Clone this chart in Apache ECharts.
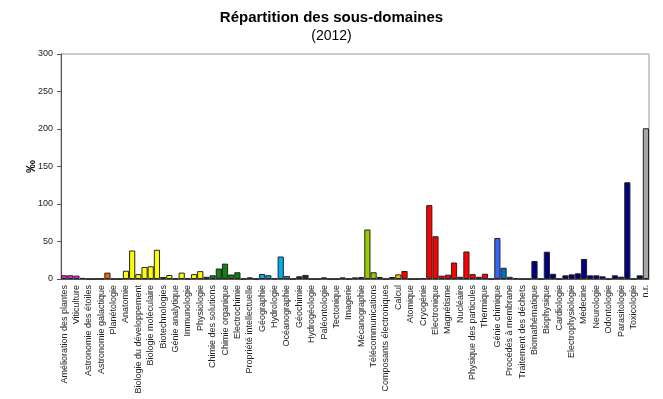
<!DOCTYPE html>
<html>
<head>
<meta charset="utf-8">
<script src="https://cdn.jsdelivr.net/npm/echarts@6/dist/echarts.min.js"></script>
<style>
  html, body { margin: 0; padding: 0; background: #fff; }
  #chart { width: 663px; height: 399px; }
</style>
</head>
<body>
<div id="chart"></div>
<script>
// labelled sub-domains (one every other bar on the axis)
const labels = [
  'Amélioration des plantes', 'Viticulture', 'Astronomie des étoiles', 'Astronomie galactique',
  'Planétologie', 'Anatomie', 'Biologie du développement', 'Biologie moléculaire',
  'Biotechnologies', 'Génie analytique', 'Immunologie', 'Physiologie',
  'Chimie des solutions', 'Chimie organique', 'Electrochimie', 'Propriété intellectuelle',
  'Géographie', 'Hydrologie', 'Océanographie', 'Géochimie',
  'Hydrogéologie', 'Paléontologie', 'Tectonique', 'Imagerie',
  'Mécanographie', 'Télécommunications', 'Composants électroniques', 'Calcul',
  'Atomique', 'Cryogénie', 'Electronique', 'Magnétisme',
  'Nucléaire', 'Physique des particules', 'Thermique', 'Génie chimique',
  'Procédés à membrane', 'Traitement des déchets', 'Biomathématique', 'Biophysique',
  'Cardiologie', 'Electrophysiologie', 'Médecine', 'Neurologie',
  'Odontologie', 'Parasitologie', 'Toxicologie', 'n.r.'
];

// values in ‰, one per bar (95 bars)
const values = [
  5, 5, 4.5, 1.5, 0.3, 0.3, 0.5, 8.5, 0.3, 0.3,
  11, 38, 6.5, 16, 17, 39, 2.7, 5.3, 0.5, 8.5,
  0.5, 6.5, 10.5, 3, 5, 14, 20.5, 6, 9, 0.3,
  2.2, 0.3, 6.7, 5, 0.8, 30, 4, 0.3, 3.6, 5.5,
  0.3, 0.3, 2.2, 0.3, 0.3, 2.2, 0.3, 2.2, 2.7, 66,
  9, 2.7, 0.3, 2.7, 6.2, 10.7, 0.3, 0.3, 1, 98.5,
  57, 4.4, 5.8, 22, 3, 36.7, 6.5, 3, 7, 0.3,
  54.7, 15, 2.9, 1.1, 0.3, 0.3, 24, 0.3, 36.4, 7,
  0.3, 4.9, 6.2, 7.6, 26.7, 4.9, 4.9, 3.6, 0.3, 4.9,
  3.1, 129, 0.3, 4.9, 201
];

const yTicks = [0, 50, 100, 150, 200, 250, 300];

// colour groups: [first bar, last bar, colour]
const colorGroups = [
  [0, 2, '#EE22EE'], [3, 3, '#CC66CC'], [4, 9, '#E46C0A'],
  [10, 22, '#FFFF00'], [23, 29, '#128012'], [30, 31, '#990000'],
  [32, 36, '#00AEEF'], [37, 44, '#0F3D0F'], [45, 48, '#C4D79B'],
  [49, 50, '#99CC00'], [51, 53, '#7030A0'], [54, 54, '#FFC000'],
  [55, 69, '#FF0000'], [70, 70, '#3366FF'], [71, 71, '#0070C0'],
  [72, 75, '#3399CC'], [76, 93, '#000080'], [94, 94, '#A6A6A6']
];

const categories = [];
labels.forEach((l, i) => {
  categories.push(l);
  if (i < labels.length - 1) categories.push('');
});

function colorFor(i) {
  for (const g of colorGroups) {
    if (i >= g[0] && i <= g[1]) return g[2];
  }
  return '#888';
}

const chart = echarts.init(document.getElementById('chart'));
chart.setOption({
  animation: false,
  backgroundColor: '#fff',
  textStyle: { fontFamily: 'Liberation Sans, Arial, sans-serif' },
  title: [
    { text: 'Répartition des sous-domaines', left: 'center', top: 5,
      textStyle: { fontSize: 15, fontWeight: 'bold', color: '#000', fontFamily: 'Liberation Sans' } },
    { text: '(2012)', left: 'center', top: 24,
      textStyle: { fontSize: 14, fontWeight: 'normal', color: '#000', fontFamily: 'Liberation Sans' } }
  ],
  grid: { left: 61, right: 14, top: 54, bottom: 120, show: true, borderColor: '#999', borderWidth: 1 },
  xAxis: {
    type: 'category',
    data: categories,
    axisLine: { lineStyle: { color: '#555' } },
    axisTick: { show: false },
    axisLabel: { interval: 0, rotate: 90, fontSize: 9, color: '#222', margin: 6 }
  },
  yAxis: {
    type: 'value',
    min: yTicks[0], max: yTicks[yTicks.length - 1], interval: 50,
    name: '‰', nameLocation: 'middle', nameRotate: 90, nameGap: 23,
    nameMoveOverlap: false,
    nameTextStyle: { fontSize: 13, fontWeight: 'bold', color: '#000' },
    axisLine: { show: true, lineStyle: { color: '#555' } },
    axisTick: { show: true, length: 4, lineStyle: { color: '#555' } },
    axisLabel: { fontSize: 9, color: '#222', margin: 8 },
    splitLine: { show: false }
  },
  series: [{
    type: 'bar',
    data: values,
    barCategoryGap: '0%',
    itemStyle: {
      color: p => colorFor(p.dataIndex),
      borderColor: '#222',
      borderWidth: 1
    }
  }]
});
</script>
</body>
</html>
